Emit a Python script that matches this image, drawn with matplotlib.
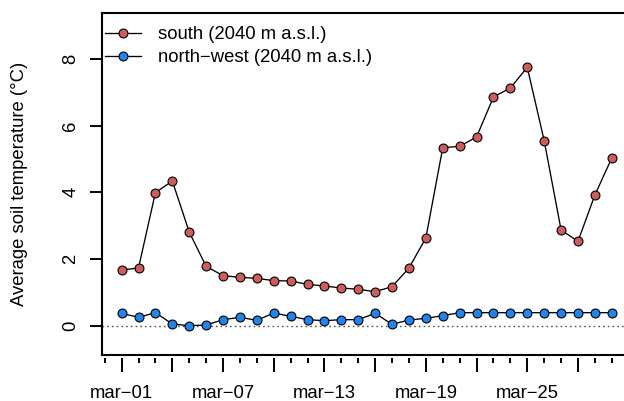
import matplotlib
matplotlib.use("Agg")
import matplotlib.pyplot as plt
from matplotlib.ticker import FixedLocator, FixedFormatter

plt.rcParams['font.family'] = ['Liberation Sans', 'DejaVu Sans']

days = list(range(1, 31))  # March 1..30
south = [1.67, 1.73, 3.99, 4.34, 2.81, 1.78, 1.50, 1.45, 1.42, 1.35,
         1.34, 1.24, 1.19, 1.13, 1.09, 1.02, 1.17, 1.73, 2.63, 5.34,
         5.38, 5.66, 6.86, 7.13, 7.75, 5.55, 2.87, 2.53, 3.92, 5.03]
northwest = [0.37, 0.25, 0.39, 0.05, 0.00, 0.02, 0.18, 0.25, 0.16, 0.38,
             0.28, 0.18, 0.15, 0.18, 0.18, 0.37, 0.04, 0.17, 0.22, 0.30,
             0.39, 0.39, 0.39, 0.39, 0.39, 0.39, 0.39, 0.39, 0.39, 0.39]
major_days = [1, 4, 7, 10, 13, 16, 19, 22, 25, 28]
labelled_days = [1, 7, 13, 19, 25]
minor_days = list(range(0, 32))
yticks = [0, 2, 4, 6, 8]
series_labels = ["south (2040 m a.s.l.)", "north\u2212west (2040 m a.s.l.)"]

W, H = 624, 401
fig = plt.figure(figsize=(W / 100, H / 100), dpi=100)
left, right, top, bottom = 102, 631.4, 13, 355
ax = fig.add_axes([left / W, 1 - bottom / H, (right - left) / W, (bottom - top) / H])

fs = 13.3
ax.axhline(0, color='#555555', lw=1.0, linestyle=(0, (1.2, 2.2)), zorder=1)
ax.plot(days, south, '-o', color='black', lw=0.95, markersize=6.4,
        markerfacecolor='#CD5C5C', markeredgecolor='black', markeredgewidth=0.8,
        label=series_labels[0], zorder=3)
ax.plot(days, northwest, '-o', color='black', lw=0.95, markersize=6.4,
        markerfacecolor='#1C86EE', markeredgecolor='black', markeredgewidth=0.8,
        label=series_labels[1], zorder=3)

span = days[-1] - days[0]
ax.set_xlim(days[0] - 0.04 * span, days[-1] + 0.04 * span)
ax.set_ylim(-0.5 - 0.04 * 9.5, 9 + 0.04 * 9.5)

ax.xaxis.set_major_locator(FixedLocator(major_days))
ax.xaxis.set_major_formatter(FixedFormatter(
    [f"mar\u2212{d:02d}" if d in labelled_days else "" for d in major_days]))
ax.xaxis.set_minor_locator(FixedLocator(minor_days))
ax.tick_params(axis='x', which='major', direction='out', length=10.4, width=1.4,
               pad=9.3, labelsize=fs)
ax.tick_params(axis='x', which='minor', direction='out', length=3.4, width=1.4)

ax.set_yticks(yticks)
ax.set_yticklabels([str(v) for v in yticks], rotation=90, va='center')
ax.tick_params(axis='y', direction='out', length=8.9, width=1.4, pad=7.5, labelsize=fs)

for s in ['left', 'top', 'right']:
    ax.spines[s].set_linewidth(1.5)
ax.spines['bottom'].set_position(('outward', 2.2))
ax.spines['bottom'].set_color('none')
ax.plot([0, 1], [0, 0], transform=ax.transAxes, color='black', lw=1.5,
        clip_on=False, solid_capstyle='projecting')

fig.text(20 / W, 1 - 184 / H, "Average soil temperature (\u00b0C)", rotation=90,
         ha='center', va='center', fontsize=fs)

leg = ax.legend(loc='upper left', bbox_to_anchor=(105 / W, 1 - 26 / H),
                bbox_transform=fig.transFigure, frameon=False, fontsize=fs,
                borderpad=0, borderaxespad=0, handlelength=1.93,
                handletextpad=0.94, labelspacing=0.35, numpoints=1)

fig.savefig("out.png", dpi=100)
